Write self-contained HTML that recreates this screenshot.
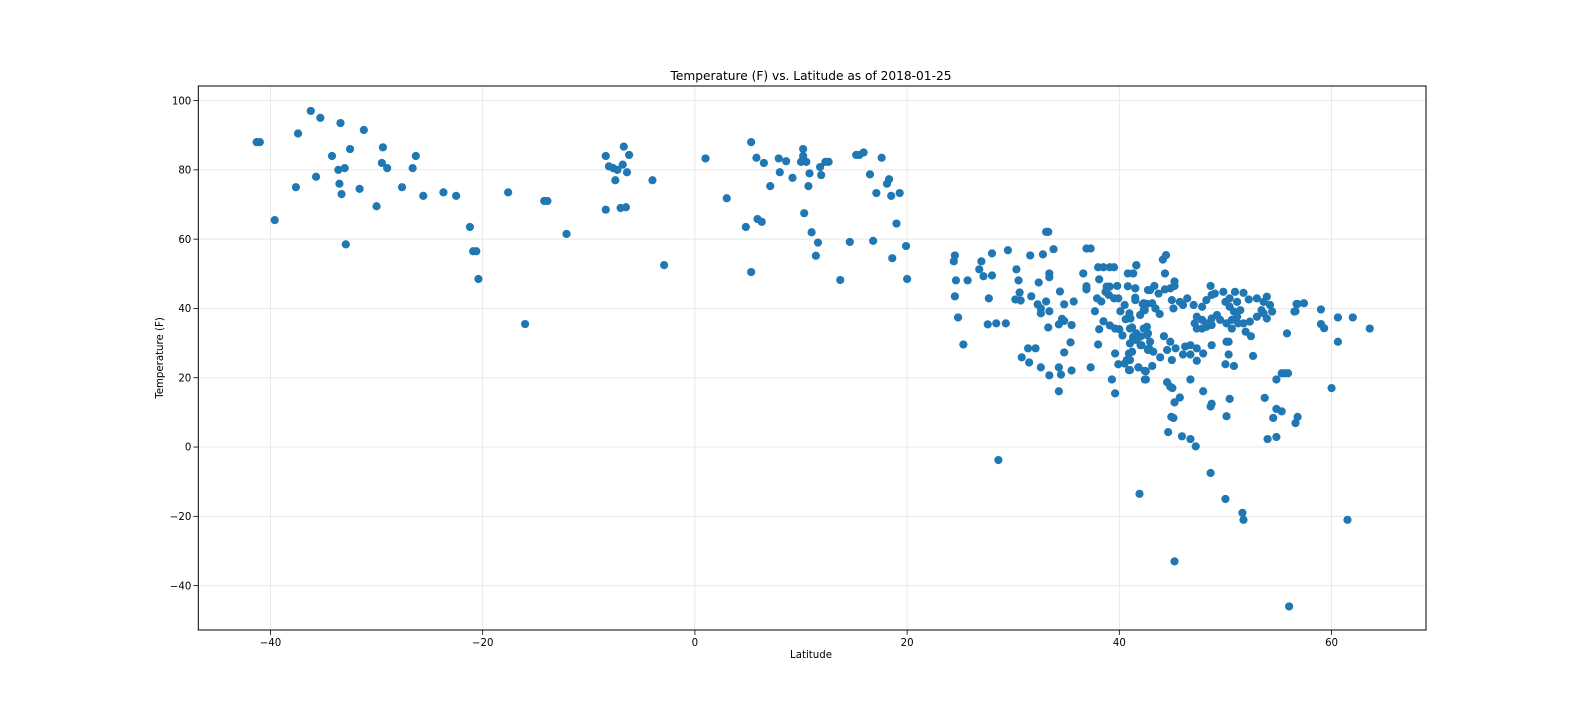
<!DOCTYPE html>
<html><head><meta charset="utf-8"><style>
html,body{margin:0;padding:0;background:#fff;}
svg text{font-family:"DejaVu Sans","Liberation Sans",sans-serif;fill:#000;}
</style></head><body>
<svg id="chart" width="1584" height="720" viewBox="0 0 1584 720" xmlns="http://www.w3.org/2000/svg">
<rect width="1584" height="720" fill="#fff"/>
<g id="grid"></g>
<g id="points"></g>
<g id="axes"></g>
<text x="811" y="80" text-anchor="middle" font-size="12.2">Temperature (F) vs. Latitude as of 2018-01-25</text>
<text x="811" y="658" text-anchor="middle" font-size="10.2">Latitude</text>
<text transform="translate(163,358) rotate(-90)" text-anchor="middle" font-size="10.2">Temperature (F)</text>
</svg>
<script>
const xTicks=[-40,-20,0,20,40,60];
const yTicks=[-40,-20,0,20,40,60,80,100];
const latitudes=[-41.3,-41,-39.6,-37.6,-37.4,-36.2,-35.7,-35.3,-34.2,-33.6,-33.5,-33.3,-33.0,-33.4,-32.9,-32.5,-31.6,-31.2,-30,-29.5,-29.4,-29.0,-27.6,-26.6,-26.3,-25.6,-23.7,-22.5,-21.2,-20.9,-20.6,-20.4,-17.6,-16,-14.2,-13.9,-12.1,-8.4,-8.4,-8.1,-7.7,-7.5,-7.3,-7,-6.8,-6.7,-6.5,-6.4,-6.2,-4,-2.9,1,3,4.8,5.3,5.3,5.8,5.9,6.3,6.5,7.1,7.9,8.0,8.6,9.2,10,10.2,10.2,10.5,10.3,10.7,10.8,11,11.4,11.6,11.8,11.9,12.3,12.6,13.7,14.6,15.2,15.5,15.9,16.5,16.8,17.1,17.6,18.1,18.3,18.5,18.6,19,19.3,19.9,20,
24.5,24.4,27.0,26.8,28.0,29.5,24.6,25.7,27.2,28.0,30.3,30.5,24.5,27.7,30.6,30.2,30.7,31.6,32.8,33.8,33.1,33.3,31.7,32.4,33.4,33.4,32.3,33.1,32.6,32.6,33.4,34.4,34.8,35.7,24.8,27.6,28.4,29.3,25.3,33.3,34.3,34.6,34.8,35.5,35.4,31.4,32.1,30.8,31.5,32.6,33.4,34.3,34.5,34.8,35.5,34.3,28.6,
36.6,36.9,37.3,38.0,38.1,36.9,36.9,37.9,38.3,37.7,38.5,38.1,38.0,37.3,39.1,39.6,40.0,40.3,39.6,39.9,39.3,39.6,38.5,39.1,39.5,38.8,39.1,39.8,38.7,39.0,39.5,39.9,40.5,40.1,40.95,40.6,41.05,41.2,41.6,41.3,42.0,42.1,40.9,41.2,40.7,40.5,40.9,41.8,42.5,42.5,40.8,41.3,41.6,40.8,41.5,41.5,42.2,42.6,42.4,42.6,42.7,42.7,42.7,
44.4,44.1,41.6,41.3,44.3,41.5,45.2,45.2,42.9,43.3,43.7,44.3,44.8,41.5,42.3,43.1,43.4,43.8,42.3,41.96,44.95,45.1,45.7,46.4,46.0,47.0,47.8,48.2,48.7,48.6,49.0,49.8,50.0,50.4,50.9,51.1,51.7,52.2,51.4,50.8,50.4,47.3,47.8,48.2,48.7,49.2,49.5,47.3,47.8,48.2,48.7,47.1,50.1,50.6,50.6,51.1,51.2,51.7,52.3,52.96,53.4,53.9,52.96,53.6,54.2,54.4,53.9,53.6,56.7,57.4,56.5,59.0,59.0,59.3,60.6,62.0,63.6,51.9,60.6,60.0,
41.0,41.3,41.6,42.3,42.6,42.9,41.0,42.0,42.8,43.2,44.2,44.8,45.3,44.5,44.95,43.85,41.0,41.8,42.4,43.1,42.4,41.0,46.2,46.7,47.3,47.9,46.0,46.7,47.3,48.7,50.1,50.3,50.3,50.0,50.8,52.4,52.6,
44.5,44.8,45.0,46.7,45.7,45.2,47.9,48.7,48.6,50.4,50.1,44.9,45.1,44.6,45.9,46.7,47.2,53.7,54.8,55.3,55.6,55.9,54.8,55.3,54.5,56.8,56.6,53.97,54.8,
41.9,45.2,48.6,50.0,51.6,51.7,61.5,56.0,55.8,56.6,56.8];
const temperatures=[88,88,65.5,75,90.5,97,78,95,84,80,76,73,80.5,93.5,58.5,86,74.5,91.5,69.5,82,86.5,80.5,75,80.5,84,72.5,73.5,72.5,63.5,56.5,56.5,48.5,73.5,35.5,71,71,61.5,84,68.5,81,80.5,77,80,69,81.5,86.7,69.2,79.3,84.3,77,52.5,83.3,71.8,63.5,88,50.5,83.5,65.8,65,82,75.3,83.3,79.3,82.5,77.7,82.3,84,86,82.3,67.5,75.3,79,62,55.2,59,80.8,78.5,82.3,82.3,48.2,59.2,84.3,84.3,85,78.7,59.5,73.3,83.5,76,77.3,72.5,54.5,64.5,73.3,58,48.5,
55.3,53.6,53.6,51.3,55.9,56.8,48.1,48.1,49.3,49.5,51.3,48.1,43.5,42.9,44.6,42.6,42.3,55.3,55.6,57.1,62.1,62.1,43.5,47.5,50.1,49,41.2,42,40,38.6,39.2,44.9,41.2,42,37.4,35.4,35.7,35.7,29.6,34.5,35.4,37,36.4,35.2,30.2,28.5,28.5,25.9,24.4,23,20.7,23,20.9,27.3,22.1,16.1,-3.75,
50.1,57.3,57.3,51.9,48.4,46.4,45.5,42.9,42,39.2,36.3,34,29.6,23,35.1,34.2,34,32.2,27,23.9,19.5,15.5,51.9,51.9,51.9,46.3,46.3,46.5,44.8,43.9,42.9,42.9,41,39.2,38.6,36.9,37.1,34.5,32.8,31.4,31.9,29.4,27,27.5,25.1,24.1,22.2,23,21.9,19.5,50.1,50.1,52.5,46.4,45.8,42.4,41.3,41.3,39.5,34.7,32.8,28,45.3,
55.4,54.1,52.4,50.1,50.1,45.8,47.8,46.5,45.3,46.5,44.3,45.5,45.8,43.1,41.5,41.5,40,38.4,39.5,38.1,42.4,40,41.9,42.9,41,41,40.5,42.4,43.9,46.5,44.3,44.8,41.9,42.9,44.8,41.9,44.5,42.6,39.5,39.1,40.5,37.6,36.7,35.7,37.1,38.1,36.7,34.2,34.2,34.7,35.2,35.7,35.7,36.7,34.2,37.6,35.7,35.7,36.2,37.6,39.5,43.4,42.9,41.9,41,39.1,37.1,38.6,41.3,41.5,39.1,39.7,35.5,34.3,37.4,37.4,34.2,33.3,30.4,17.0,
34.2,31.8,30.9,34.2,32.3,30.4,29.9,29.4,28.5,27.5,32,30.4,28.5,28,25.1,25.9,25.1,23,22,23.4,19.5,22.2,29,29.4,28.5,27,26.7,26.7,24.9,29.4,30.4,30.4,26.7,23.9,23.4,32,26.3,
18.7,17.4,17,19.5,14.3,12.9,16.1,12.5,11.7,13.9,8.9,8.7,8.4,4.3,3.1,2.3,0.2,14.2,19.5,21.3,21.3,21.3,11,10.3,8.4,8.7,6.9,2.3,2.9,
-13.5,-33,-7.5,-15,-19,-21,-21,-46,32.8,39.2,41.3];

const L=198.3,R=1426,T=86,B=630;
const xMin=-46.8,xMax=68.9,yMin=-52.8,yMax=104.2;
function xs(v){return L+(v-xMin)/(xMax-xMin)*(R-L);}
function ys(v){return B-(v-yMin)/(yMax-yMin)*(B-T);}
const NS="http://www.w3.org/2000/svg";
function mk(tag,attrs,parent){const e=document.createElementNS(NS,tag);for(const k in attrs)e.setAttribute(k,attrs[k]);parent.appendChild(e);return e;}
const grid=document.getElementById('grid'),axes=document.getElementById('axes'),pts=document.getElementById('points');
xTicks.forEach(t=>{const x=xs(t);
 const g=mk('line',{x1:x,x2:x,y1:T,y2:B,stroke:'#e8e8e8','stroke-width':1},grid);
 
 
 const tk=mk('line',{x1:x,x2:x,y1:B,y2:B+4.9,stroke:'#000','stroke-width':0.8},axes);
 
 
 const tx=mk('text',{x:x,y:B+16,'text-anchor':'middle','font-size':10.2},axes);
 tx.textContent=(t<0?'\u2212'+Math.abs(t):t);
 
 
});
yTicks.forEach(t=>{const y=ys(t);
 const g=mk('line',{x1:L,x2:R,y1:y,y2:y,stroke:'#e8e8e8','stroke-width':1},grid);
 
 
 const tk=mk('line',{x1:L-4.9,x2:L,y1:y,y2:y,stroke:'#000','stroke-width':0.8},axes);
 
 
 const tx=mk('text',{x:L-7,y:y+3.7,'text-anchor':'end','font-size':10.2},axes);
 tx.textContent=(t<0?'\u2212'+Math.abs(t):t);
 
 
});
const fr=mk('rect',{x:L,y:T,width:R-L,height:B-T,fill:'none',stroke:'#000','stroke-width':1},axes);


const n=Math.min(latitudes.length,temperatures.length);
for(let i=0;i<n;i++){
 const c=mk('circle',{cx:xs(latitudes[i]),cy:ys(temperatures[i]),r:4.1,fill:'#1f77b4'},pts);
 
 
}
</script>
</body></html>
